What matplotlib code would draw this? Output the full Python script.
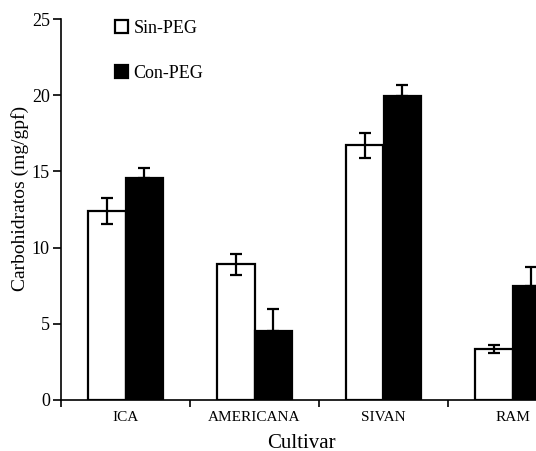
import matplotlib
matplotlib.use('Agg')
import matplotlib.pyplot as plt
import numpy as np
from matplotlib.patches import Patch

cultivars = ['ICA', 'AMERICANA', 'SIVAN', 'RAM']
sin_peg = [12.4, 8.9, 16.7, 3.35]
sin_err = [0.85, 0.68, 0.85, 0.25]
con_peg = [14.55, 4.5, 19.95, 7.5]
con_err = [0.7, 1.45, 0.72, 1.2]

plt.rcParams['font.family'] = ['Liberation Serif', 'DejaVu Serif']

fig = plt.figure(figsize=(5.36, 4.51), dpi=100)
# el eje sigue mas alla del borde derecho, como en la figura original
ax = fig.add_axes([61 / 536, 51 / 451, 516 / 536, 381 / 451])

x = np.arange(len(cultivars))
w = 0.287
ax.bar(x - w / 2, sin_peg, w, color='white', edgecolor='black', linewidth=1.6)
ax.bar(x + w / 2, con_peg, w, color='black', edgecolor='black', linewidth=1.6)
ax.errorbar(x - w / 2, sin_peg, yerr=sin_err, fmt='none', ecolor='black',
            elinewidth=1.6, capsize=4, capthick=1.6)
ax.errorbar(x + w / 2, con_peg, yerr=[np.zeros(len(con_err)), con_err],
            fmt='none', ecolor='black', elinewidth=1.6, capsize=4, capthick=1.6)

ax.set_xlim(-0.5, 3.5)
ax.set_ylim(0, 25)
ax.set_yticks([0, 5, 10, 15, 20, 25])
ax.set_xticks(x)
ax.set_xticklabels(cultivars, fontsize=11)
ax.set_xticks([-0.5, 0.5, 1.5, 2.5], minor=True)
ax.tick_params(axis='x', which='major', length=0, pad=8)
ax.tick_params(axis='x', which='minor', length=5, width=1.2)
ax.tick_params(axis='y', length=6, width=1.2, labelsize=13, pad=2)

for s in ['top', 'right']:
    ax.spines[s].set_visible(False)
for s in ['left', 'bottom']:
    ax.spines[s].set_linewidth(1.2)

ax.set_ylabel('Carbohidratos (mg/gpf)', fontsize=14, va='center')
ax.yaxis.set_label_coords((20 - 61) / 516, (400 - 198) / 381)
ax.set_xlabel('Cultivar', fontsize=15, va='center')
ax.xaxis.set_label_coords((301 - 61) / 516, (400 - 443) / 381)

handles = [Patch(facecolor='white', edgecolor='black', linewidth=1.6),
           Patch(facecolor='black', edgecolor='black', linewidth=1.6)]
ax.legend(handles, ['Sin-PEG', 'Con-PEG'], loc='upper left',
          bbox_to_anchor=((99 - 61) / 516, 1.04), frameon=False,
          fontsize=13, handlelength=0.72, handleheight=0.72,
          handletextpad=0.3, labelspacing=1.55)

fig.savefig('out.png', dpi=100)
